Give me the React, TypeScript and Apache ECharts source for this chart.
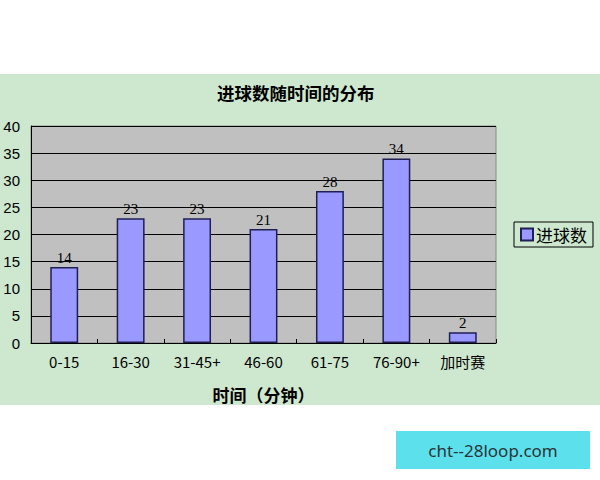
import { useEffect, useRef } from 'react'
import * as echarts from 'echarts'

const categories = ['0-15', '16-30', '31-45+', '46-60', '61-75', '76-90+', '加时赛']
const goals = [14, 23, 23, 21, 28, 34, 2]
const seriesName = '进球数'
const chartTitle = '进球数随时间的分布'
const xAxisName = '时间（分钟）'
const watermark = 'cht--28loop.com'

export default function App() {
  const chartRef = useRef<HTMLDivElement>(null)

  useEffect(() => {
    if (!chartRef.current) return
    const chart = echarts.init(chartRef.current, null, { renderer: 'svg' })

    const option: echarts.EChartsOption = {
      animation: false,
      backgroundColor: '#ffffff',
      graphic: [
        {
          type: 'rect',
          z: -10,
          shape: { x: 0, y: 74, width: 600, height: 331 },
          style: { fill: '#CDE8CF' },
        },
        {
          type: 'rect',
          shape: { x: 396, y: 431, width: 194, height: 38 },
          style: { fill: '#5CE1EC' },
        },
        {
          type: 'text',
          x: 493,
          y: 450,
          style: {
            text: watermark,
            fill: '#2b3438',
            font: '17px "Noto Sans", sans-serif',
            align: 'center',
            verticalAlign: 'middle',
          },
        },
      ],
      title: {
        text: chartTitle,
        left: 212,
        top: 79,
        textStyle: {
          fontFamily: 'Noto Sans CJK SC',
          fontSize: 17.5,
          fontWeight: 'bold',
          color: '#000',
        },
      },
      legend: {
        data: [seriesName],
        left: 514,
        top: 222,
        orient: 'vertical',
        backgroundColor: '#CDE8CF',
        borderColor: '#000',
        borderWidth: 1,
        borderRadius: 0,
        padding: [4, 6, 4, 6],
        itemWidth: 12,
        itemHeight: 12,
        itemGap: 4,
        icon: 'rect',
        textStyle: {
          fontFamily: 'Noto Sans CJK SC',
          fontSize: 17,
          color: '#000',
          padding: [0, 0, 0, -2],
        },
      },
      grid: {
        left: 31,
        right: 104,
        top: 126,
        bottom: 137,
        show: true,
        backgroundColor: '#C0C0C0',
        borderColor: '#8a8a8a',
        borderWidth: 1,
      },
      xAxis: {
        type: 'category',
        data: categories,
        name: xAxisName,
        nameLocation: 'middle',
        nameGap: 43,
        nameTextStyle: {
          fontFamily: 'Noto Sans CJK SC',
          fontSize: 17,
          fontWeight: 'bold',
          color: '#000',
        },
        axisLine: { lineStyle: { color: '#000', width: 1 } },
        axisTick: { show: true, inside: true, length: 4, lineStyle: { color: '#000' } },
        axisLabel: {
          color: '#000',
          fontSize: 15,
          fontFamily: '"Noto Sans CJK SC", sans-serif',
          margin: 11,
        },
      },
      yAxis: {
        type: 'value',
        min: 0,
        max: 40,
        interval: 5,
        axisLine: { show: true, lineStyle: { color: '#000', width: 1 } },
        axisTick: { show: false },
        axisLabel: {
          color: '#000',
          fontSize: 15,
          fontFamily: '"Liberation Sans", sans-serif',
          margin: 11,
        },
        splitLine: { lineStyle: { color: '#000', width: 1 } },
      },
      series: [
        {
          name: seriesName,
          type: 'bar',
          data: goals,
          barWidth: '42%',
          itemStyle: {
            color: '#9999FF',
            borderColor: '#1f1f55',
            borderWidth: 1.5,
          },
          label: {
            show: true,
            position: 'top',
            distance: 2,
            color: '#000',
            fontSize: 15,
            fontFamily: '"Liberation Serif", serif',
          },
        },
      ],
    }

    chart.setOption(option)
    return () => chart.dispose()
  }, [])

  return (
    <div
      ref={chartRef}
      style={{ position: 'fixed', left: 0, top: 0, width: 600, height: 480 }}
    />
  )
}
